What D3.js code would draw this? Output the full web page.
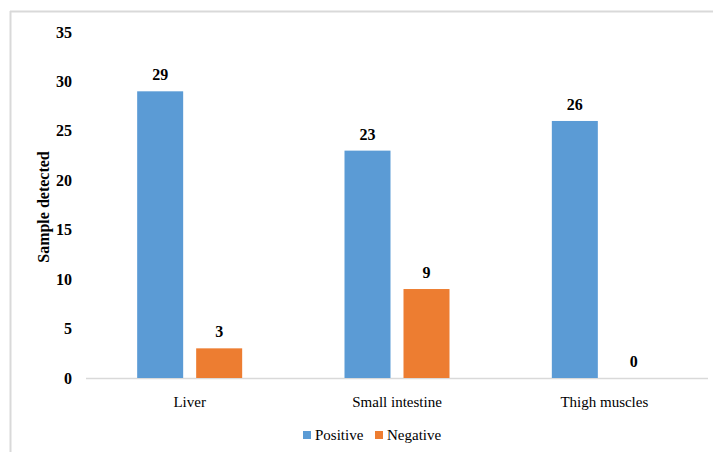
<!DOCTYPE html>
<html>
<head>
<meta charset="utf-8">
<script src="https://cdn.jsdelivr.net/npm/d3@7"></script>
<style>
  html, body { margin: 0; padding: 0; background: #fff; }
  svg { display: block; }
  svg text { font-family: "Liberation Serif", "Tinos", "Times New Roman", "DejaVu Serif", serif; }
</style>
</head>
<body>
<svg id="chart" width="713" height="452"></svg>
<script>
const categories = ["Liver", "Small intestine", "Thigh muscles"];
const seriesNames = ["Positive", "Negative"];
const positive = [29, 23, 26];
const negative = [3, 9, 0];
const yTicks = [0, 5, 10, 15, 20, 25, 30, 35];
const colors = ["#5B9BD5", "#ED7D31"];

const svg = d3.select("#chart");

// outer border (top and left visible)
svg.append("line").attr("x1", 10).attr("x2", 713).attr("y1", 11.5).attr("y2", 11.5)
  .attr("stroke", "#d9d9d9").attr("stroke-width", 2);
svg.append("line").attr("x1", 10.5).attr("x2", 10.5).attr("y1", 11).attr("y2", 452)
  .attr("stroke", "#d9d9d9").attr("stroke-width", 2);

const x0 = 86, x1 = 708, yBase = 378, yTop = 32;

const x = d3.scaleBand().domain(categories).range([x0, x1]).paddingInner(0).paddingOuter(0);
const y = d3.scaleLinear().domain([0, 35]).range([yBase, yTop]);

const barW = 46, gap = 13;
const inner = d3.scaleBand().domain(seriesNames).range([0, barW * 2 + gap])
  .paddingInner(gap / (barW + gap)).paddingOuter(0);

const data = categories.map((c, i) => ({cat: c, vals: [positive[i], negative[i]]}));

// axis line
svg.append("line").attr("x1", x0).attr("x2", x1).attr("y1", yBase + 0.5).attr("y2", yBase + 0.5)
  .attr("stroke", "#d9d9d9").attr("stroke-width", 1.5);

// y tick labels
const yAxis = d3.axisLeft(y).tickValues(yTicks).tickSize(0).tickPadding(0);
const gy = svg.append("g").attr("transform", "translate(72,0)").call(yAxis);
gy.attr("font-family", null).attr("font-size", null);
gy.select(".domain").remove();
gy.selectAll("text").attr("font-size", 16).attr("font-weight", "bold")
  .attr("fill", "#000").attr("text-anchor", "end");

// bars
const groups = svg.selectAll("g.cat").data(data).join("g").attr("class", "cat")
  .attr("transform", d => `translate(${x(d.cat) + x.bandwidth() / 2 - (barW * 2 + gap) / 2},0)`);

groups.selectAll("rect").data(d => d.vals.map((v, j) => ({v, s: seriesNames[j], j})))
  .join("rect")
  .attr("x", d => inner(d.s))
  .attr("width", inner.bandwidth())
  .attr("y", d => y(d.v))
  .attr("height", d => yBase - y(d.v))
  .attr("fill", d => colors[d.j]);

groups.selectAll("text.val").data(d => d.vals.map((v, j) => ({v, s: seriesNames[j], j})))
  .join("text").attr("class", "val")
  .attr("x", d => inner(d.s) + inner.bandwidth() / 2)
  .attr("y", d => y(d.v) - 11)
  .attr("text-anchor", "middle")
  .attr("font-size", 16).attr("font-weight", "bold")
  .text(d => d.v);

// x category labels
const xAxis = d3.axisBottom(x).tickSize(0).tickPadding(0);
const gx = svg.append("g").attr("transform", `translate(0,${yBase + 18})`).call(xAxis);
gx.attr("font-family", null).attr("font-size", null);
gx.select(".domain").remove();
gx.selectAll("text").attr("font-size", 15).attr("fill", "#000");

// y axis title
svg.append("text")
  .attr("transform", `translate(49,${207}) rotate(-90)`)
  .attr("text-anchor", "middle")
  .attr("font-size", 16).attr("font-weight", "bold")
  .text("Sample detected");

// legend
const legendX = [303, 375];
const legend = svg.selectAll("g.leg").data(seriesNames).join("g").attr("class", "leg")
  .attr("transform", (d, i) => `translate(${legendX[i]},431)`);
legend.append("rect").attr("width", 8).attr("height", 8).attr("fill", (d, i) => colors[i]);
legend.append("text").attr("x", 12).attr("y", 9)
  .attr("font-size", 15).attr("fill", "#000")
  .text(d => d);
</script>
</body>
</html>
